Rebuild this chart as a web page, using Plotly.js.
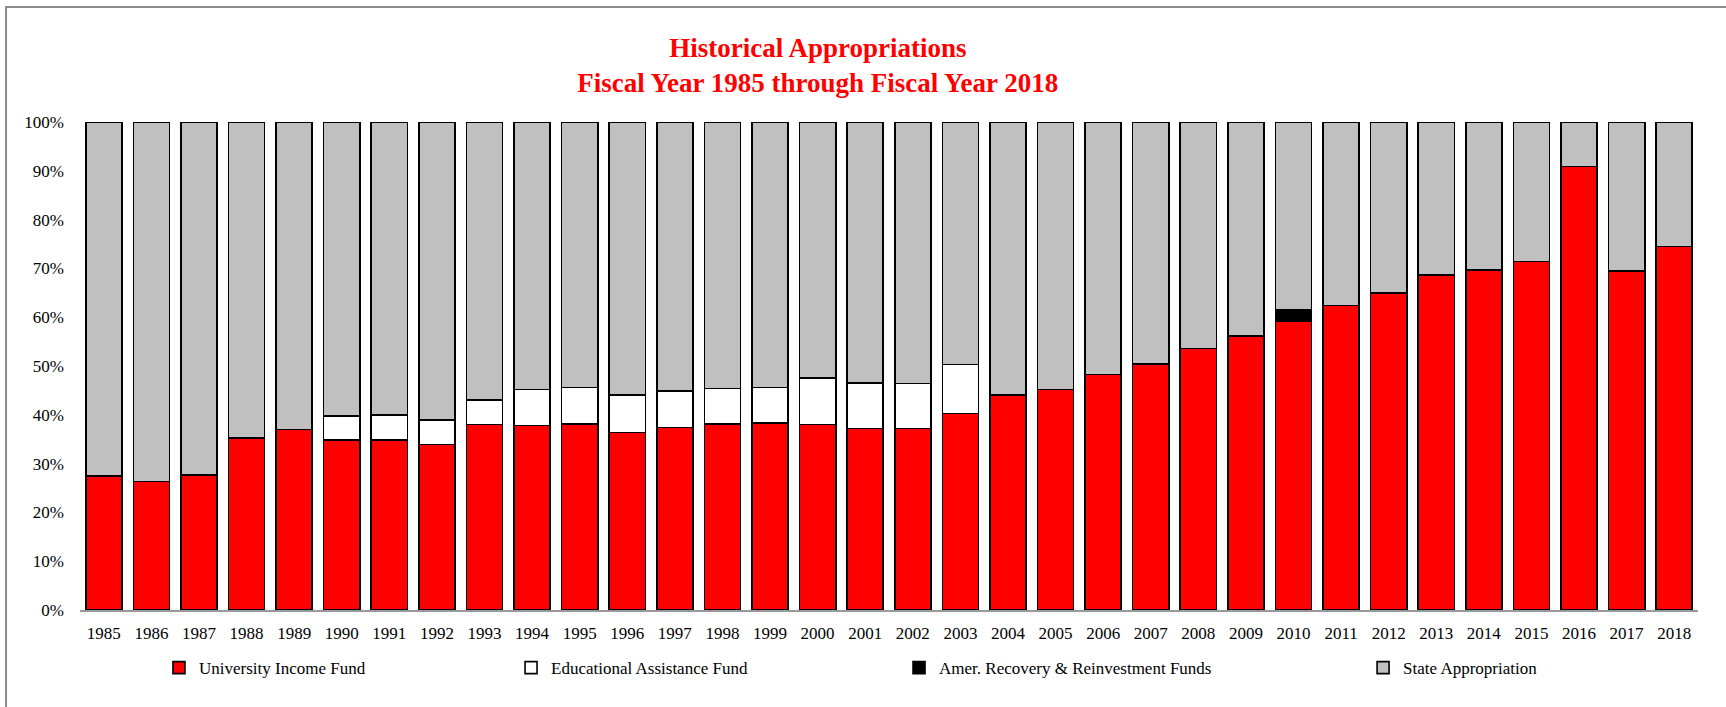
<!DOCTYPE html>
<html>
<head>
<meta charset="utf-8">
<script src="https://cdn.plot.ly/plotly-3.0.1.min.js"></script>
<style>
  html, body { margin: 0; padding: 0; background: #ffffff; }
  #chart { width: 1726px; height: 707px; }
</style>
</head>
<body>
<div id="chart"></div>
<script>
// ---- Data (percent of total appropriations) ----
const years = ["1985","1986","1987","1988","1989","1990","1991","1992","1993","1994","1995","1996",
  "1997","1998","1999","2000","2001","2002","2003","2004","2005","2006","2007","2008","2009","2010",
  "2011","2012","2013","2014","2015","2016","2017","2018"];

const universityIncomeFund = [27.5, 26.3, 27.7, 35.3, 37.0, 34.8, 34.8, 33.9, 38.0, 37.8, 38.1, 36.4,
  37.4, 38.1, 38.3, 38.0, 37.2, 37.2, 40.3, 44.1, 45.2, 48.3, 50.4, 53.6, 56.2, 59.2,
  62.4, 65.0, 68.7, 69.7, 71.4, 90.9, 69.5, 74.5];

const educationalAssistanceFund = [null, null, null, null, null, 5.0, 5.2, 5.0, 5.0, 7.4, 7.5, 7.7,
  7.5, 7.3, 7.3, 9.5, 9.3, 9.2, 10.0, null, null, null, null, null, null, null,
  null, null, null, null, null, null, null, null];

const recoveryReinvestmentFunds = [null, null, null, null, null, null, null, null, null, null, null, null,
  null, null, null, null, null, null, null, null, null, null, null, null, null, 2.3,
  null, null, null, null, null, null, null, null];

const stateAppropriation = [72.5, 73.7, 72.3, 64.7, 63.0, 60.2, 60.0, 61.1, 57.0, 54.8, 54.4, 55.9,
  55.1, 54.6, 54.4, 52.5, 53.5, 53.6, 49.7, 55.9, 54.8, 51.7, 49.6, 46.4, 43.8, 38.5,
  37.6, 35.0, 31.3, 30.3, 28.6, 9.1, 30.5, 25.5];

const seriesNames = ["University Income Fund", "Educational Assistance Fund",
  "Amer. Recovery & Reinvestment Funds", "State Appropriation"];
const yTickValues = [0, 10, 20, 30, 40, 50, 60, 70, 80, 90, 100];
const yTickLabels = ["0%", "10%", "20%", "30%", "40%", "50%", "60%", "70%", "80%", "90%", "100%"];

// ---- Styling ----
const serif = "Liberation Serif, Times New Roman, serif";
const colors = ["#FF0000", "#FFFFFF", "#000000", "#C0C0C0"];
const seriesValues = [universityIncomeFund, educationalAssistanceFund, recoveryReinvestmentFunds, stateAppropriation];
const legendIds = ["legend", "legend2", "legend3", "legend4"];

const traces = seriesValues.map((vals, i) => ({
  type: "bar",
  name: seriesNames[i],
  x: years,
  y: vals,
  marker: { color: colors[i], line: { color: "#000000", width: 1.6 } },
  legend: legendIds[i],
  hovertemplate: "%{x}: %{y:.1f}%<extra>" + seriesNames[i] + "</extra>"
}));

const legendXs = [0.0488, 0.2664, 0.5062, 0.7930];
function legendCfg(x) {
  return {
    x: x, xref: "paper", xanchor: "left",
    y: -0.119, yref: "paper", yanchor: "middle",
    orientation: "h",
    font: { family: serif, size: 17, color: "#000000" },
    bgcolor: "rgba(0,0,0,0)",
    itemclick: false, itemdoubleclick: false
  };
}

const layout = {
  width: 1726,
  height: 707,
  paper_bgcolor: "#FFFFFF",
  plot_bgcolor: "#FFFFFF",
  margin: { l: 80, r: 28, t: 122, b: 97 },
  barmode: "stack",
  bargap: 0.24,
  showlegend: true,
  title: {
    text: "<b>Historical Appropriations<br>Fiscal Year 1985 through Fiscal Year 2018</b>",
    font: { family: serif, size: 27, color: "#FF0000" },
    x: 0.456, xref: "paper", xanchor: "center",
    y: 0.92, yref: "container", yanchor: "top"
  },
  xaxis: {
    type: "category",
    showgrid: false,
    zeroline: false,
    showline: true,
    linecolor: "#999999",
    linewidth: 2,
    ticks: "",
    ticklabelstandoff: 7,
    tickfont: { family: serif, size: 17, color: "#000000" }
  },
  yaxis: {
    range: [0, 100],
    tickmode: "array",
    tickvals: yTickValues,
    ticktext: yTickLabels,
    showgrid: false,
    zeroline: false,
    showline: false,
    ticks: "",
    ticklabelstandoff: 15,
    tickfont: { family: serif, size: 17, color: "#000000" }
  },
  legend: legendCfg(legendXs[0]),
  legend2: legendCfg(legendXs[1]),
  legend3: legendCfg(legendXs[2]),
  legend4: legendCfg(legendXs[3]),
  shapes: [{
    type: "rect", xref: "paper", yref: "paper",
    x0: -0.0457, x1: 1.05, y0: -0.4, y1: 1.2357,
    line: { color: "#8C8C8C", width: 2 },
    fillcolor: "rgba(0,0,0,0)",
    layer: "below"
  }]
};

Plotly.newPlot("chart", traces, layout, { displayModeBar: false });
</script>
</body>
</html>
